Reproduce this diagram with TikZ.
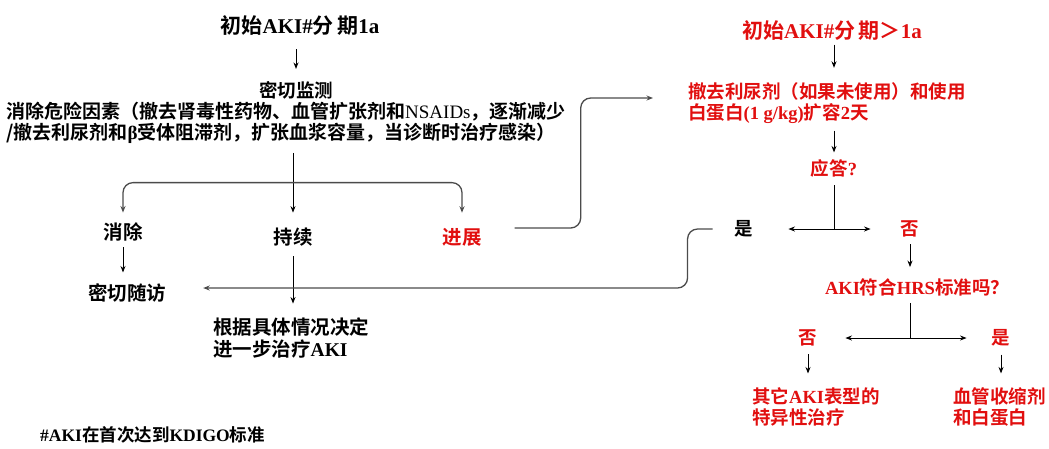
\documentclass[tikz,border=0pt]{standalone}
\usepackage{fontspec}
\setmainfont{Noto Sans CJK SC}[BoldFont={* Bold}]
\newfontfamily\latf{Liberation Serif}
\newcommand\lt[1]{{\latf\bfseries #1}}
\usetikzlibrary{arrows.meta,calc}
\definecolor{myred}{RGB}{225,15,15}
\definecolor{lnc}{RGB}{75,75,75}
\tikzset{
  txt/.style={inner sep=0pt, font=\bfseries\fontsize{18.5}{21}\selectfont},
  txtL/.style={inner sep=0pt, font=\bfseries\fontsize{19.5}{22}\selectfont},
  ttl/.style={inner sep=0pt, font=\bfseries\fontsize{21}{24}\selectfont},
  arr/.style={draw=black, line width=0.9pt, -{Stealth[length=6.5pt,width=5pt]}},
  ln/.style={draw=black, line width=0.9pt},
  garr/.style={draw=lnc, line width=1.3pt, rounded corners=10pt, -{Stealth[length=6.5pt,width=5pt]}}
}
\begin{document}
\begin{tikzpicture}[x=1pt,y=-1pt]
\useasboundingbox (0,0) rectangle (1049,448);
% left column
\node[ttl] (t1) at (300,25) {初始\lt{AKI\#}分\,期\lt{1a}};
\node[txt] (mon) at (296,90) {密切监测};
\node[txt,font=\bfseries\fontsize{19}{21}\selectfont,align=left,anchor=west] (risk) at (6,123)
  {消除危险因素（撤去肾毒性药物、血管扩张剂和{\latf\mdseries NSAIDs}，逐渐减少\\/撤去利尿剂和\lt{β}受体阻滞剂，扩张血浆容量，当诊断时治疗感染）};
\node[txtL] (elim) at (123,232) {消除};
\node[txtL] (cont) at (293,237) {持续};
\node[txtL,text=myred] (prog) at (462,237) {进展};
\node[txtL] (fu) at (127,293) {密切随访};
\node[txtL,align=left,anchor=west] (dec) at (213,338) {根据具体情况决定\\进一步治疗\lt{AKI}};
% right column
\node[ttl,text=myred] (t2) at (832,30) {初始\lt{AKI\#}分\,期＞\lt{1a}};
\node[txt,text=myred,align=left,anchor=west] (fluid) at (688,103.5) {撤去利尿剂（如果未使用）和使用\\白蛋白\lt{(1 g/kg)}扩容\lt{2}天};
\node[txt,text=myred] (resp) at (834,168) {应答\lt{?}};
\node[txt] (yes) at (744,229) {是};
\node[txt,text=myred] (no1) at (910,229) {否};
\node[txt,text=myred] (hrs) at (917,287) {\lt{AKI}符合\lt{HRS}标准吗？};
\node[txt,text=myred] (no2) at (808,338) {否};
\node[txt,text=myred] (yes2) at (1001,338) {是};
\node[txt,text=myred,align=left,anchor=west] (other) at (752,407) {其它\lt{AKI}表型的\\特异性治疗};
\node[txt,text=myred,align=left,anchor=west] (vaso) at (953,407) {血管收缩剂\\和白蛋白};
\node[txt,font=\bfseries\fontsize{17.5}{20}\selectfont,anchor=west] (note) at (40,435) {\lt{\#AKI}在首次达到\lt{KDIGO}标准};
% connectors left
\draw[arr,shorten <=14pt,shorten >=12pt] (t1.south -| mon.north) -- (mon.north);
\draw[arr,shorten <=9pt,shorten >=15pt] (risk.south -| cont.north) -- (cont.north);
\coordinate (br) at ($(cont.north)+(0,-45)$);
\draw[garr,shorten >=10pt] (br) -| (elim.north);
\draw[garr,shorten >=15pt] (br) -| (prog.north);
\draw[arr,shorten <=6pt,shorten >=11pt] (elim.south) -- (elim.south |- fu.north);
\draw[arr,shorten <=10pt,shorten >=14pt] (cont.south) -- (cont.south |- dec.north);
\draw[garr] ([xshift=33pt,yshift=9pt]prog.east) -- ++(66,0) |- ([xshift=-35pt,yshift=5.5pt]fluid.west);
% connectors right
\draw[arr,shorten <=4.5pt,shorten >=15pt] (t2.south -| resp.north) -- (t2.south |- fluid.north -| resp.north);
\draw[arr,shorten <=6.5pt,shorten >=6.5pt] (fluid.south -| resp.north) -- (resp.north);
\coordinate (j1) at (resp.south |- yes.center);
\draw[ln,shorten <=8pt] (resp.south) -- (j1);
\draw[arr,shorten >=35pt] (j1) -- (yes.east);
\draw[arr,shorten >=30pt] (j1) -- (no1.west);
\draw[arr,shorten <=7pt,shorten >=11pt] (no1.south) -- (no1.south |- hrs.north);
\coordinate (j2) at (no1.south |- no2.center);
\draw[ln,shorten <=7pt] (hrs.south -| j2) -- (j2);
\draw[arr,shorten >=28pt] (j2) -- (no2.east);
\draw[arr,shorten >=25pt] (j2) -- (yes2.west);
\draw[arr,shorten <=8pt,shorten >=14pt] (no2.south) -- (no2.south |- other.north);
\draw[arr,shorten <=8pt,shorten >=14pt] (yes2.south) -- (yes2.south |- vaso.north);
\draw[garr,shorten >=37pt] ([xshift=-22pt]yes.west) -- ++(-25,0) |- ([yshift=5pt]fu.east);
\end{tikzpicture}
\end{document}
